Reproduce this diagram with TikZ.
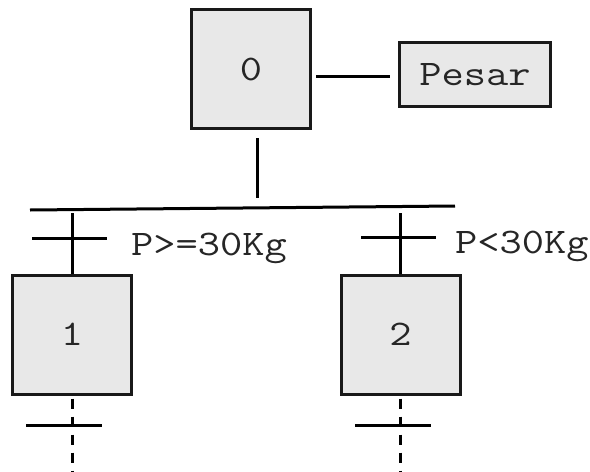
\documentclass[tikz,border=0pt]{standalone}
\usepackage{fontspec}
\setmonofont{Latin Modern Mono}[FakeStretch=1.2]
\begin{document}
\begin{tikzpicture}[x=1pt,y=-1pt,
  every node/.style={font=\ttfamily\fontsize{36}{42}\selectfont, text=black!85},
  stepbox/.style={draw=black!90, fill=black!9, line width=3pt,
    minimum width=119pt, minimum height=119pt, inner sep=0pt},
  actbox/.style={draw=black!90, fill=black!9, line width=3pt,
    minimum width=151pt, minimum height=64pt, inner sep=0pt},
  link/.style={line width=3pt, black},
  cont/.style={line width=3pt, black, dash pattern=on 10pt off 8pt, dash phase=-3pt},
  lbl/.style={anchor=base west, inner sep=0pt}]
  \useasboundingbox (0,0) rectangle (590,472);

  % steps and action
  \node[stepbox] (s0) at (251,69) {0};
  \node[actbox] (act) at (475,74.5) {Pesar};
  \node[stepbox] (s1) at (72,334.5) {1};
  \node[stepbox] (s2) at (400.5,334.5) {2};

  % action link
  \draw[link, shorten <=4pt, shorten >=8pt] (s0.east |- 0,76) -- (act.west |- 0,76);

  % divergence bar
  \coordinate (j0) at (257,198);
  \coordinate (bl) at (30,210);
  \coordinate (br) at (455,206);
  \draw[link, shorten <=8pt] (s0.south -| j0) -- (j0);
  \draw[link] (bl) -- (br);

  % branch transitions
  \coordinate (in1) at (72,213);
  \coordinate (in2) at (400,213);
  \coordinate (t1) at (72,238);
  \coordinate (t2) at (400,237);
  \draw[link] (in1) -- (s1.north);
  \draw[link] (in2) -- (s2.north -| in2);
  \draw[link] ([xshift=-40pt]t1) -- ([xshift=35pt]t1);
  \draw[link] ([xshift=-39pt]t2) -- ([xshift=36pt]t2);
  \node[lbl] (c1) at (131,255) {P>=30Kg};
  \node[lbl] (c2) at (455,253) {P<30Kg};

  % outgoing transitions (continued)
  \coordinate (e1) at (72,472);
  \coordinate (e2) at (400,472);
  \coordinate (u1) at (72,425);
  \coordinate (u2) at (400,425);
  \draw[cont] (s1.south) -- (e1);
  \draw[cont] (s2.south -| e2) -- (e2);
  \draw[link] ([xshift=-46pt]u1) -- ([xshift=30pt]u1);
  \draw[link] ([xshift=-45pt]u2) -- ([xshift=31pt]u2);
\end{tikzpicture}
\end{document}
